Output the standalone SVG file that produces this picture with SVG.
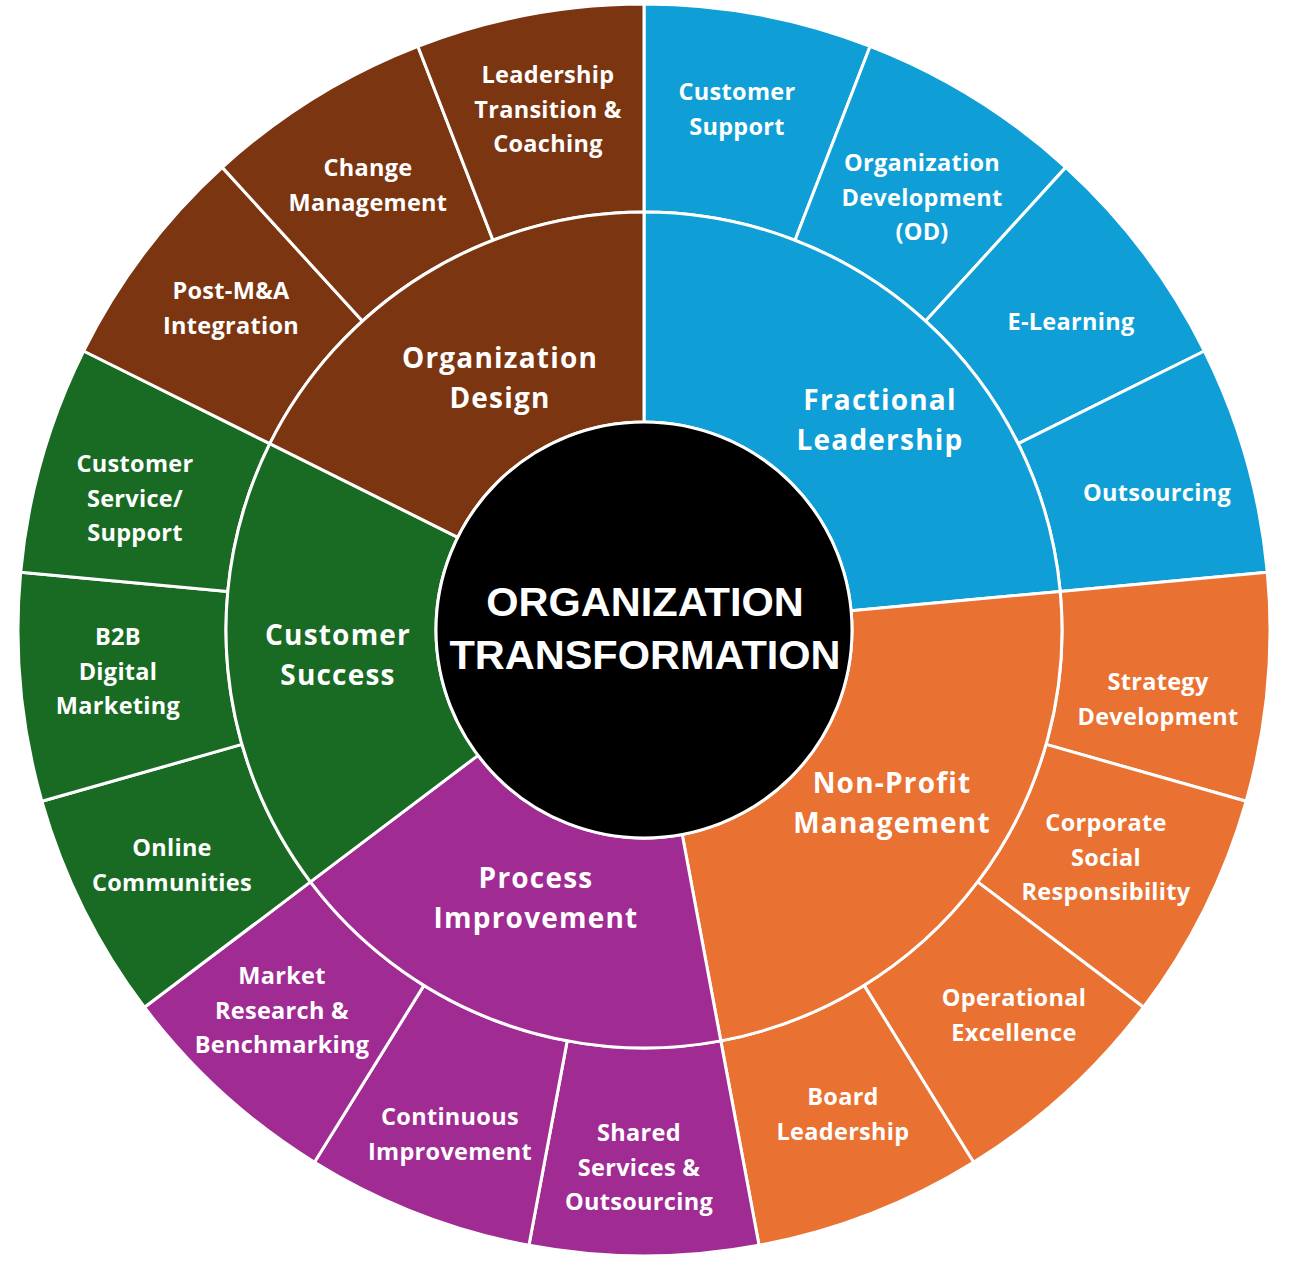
<svg xmlns="http://www.w3.org/2000/svg" width="1291" height="1264" viewBox="0 0 1291 1264">
<style>
.seg{stroke:#ffffff;stroke-width:3;stroke-linejoin:round}
.blue{fill:#0F9ED5}.orange{fill:#E97132}.purple{fill:#A02B93}.green{fill:#196B24}.brown{fill:#7C3511}
.lbl{font-family:"Open Sans","Noto Sans",sans-serif;font-weight:700;fill:#ffffff;text-anchor:middle;font-size:23.5px;letter-spacing:0.3px}
.mid{font-size:28px;letter-spacing:1.2px}
.ctr{font-family:"Liberation Sans",Arial,sans-serif;font-weight:700;fill:#ffffff;text-anchor:middle;font-size:41.5px}
</style>
<rect width="1291" height="1264" fill="#ffffff"/>

<!-- outer ring: Fractional Leadership children -->
<g id="customer-support"><path class="seg blue" d="M644,4 A626,626 0 0 1 870.14,46.27 L795.00,240.23 A418,418 0 0 0 644,212 Z"/>
<text class="lbl" x="737" y="100">Customer</text><text class="lbl" x="737" y="135">Support</text></g>
<g id="organization-development"><path class="seg blue" d="M870.14,46.27 A626,626 0 0 1 1065.74,167.37 L925.61,321.09 A418,418 0 0 0 795.00,240.23 Z"/>
<text class="lbl" x="922" y="171">Organization</text><text class="lbl" x="922" y="206">Development</text><text class="lbl" x="922" y="240">(OD)</text></g>
<g id="e-learning"><path class="seg blue" d="M1065.74,167.37 A626,626 0 0 1 1204.37,350.97 L1018.18,443.68 A418,418 0 0 0 925.61,321.09 Z"/>
<text class="lbl" x="1071" y="330">E-Learning</text></g>
<g id="outsourcing"><path class="seg blue" d="M1204.37,350.97 A626,626 0 0 1 1267.33,572.24 L1060.22,591.43 A418,418 0 0 0 1018.18,443.68 Z"/>
<text class="lbl" x="1157" y="501">Outsourcing</text></g>

<!-- Non-Profit children -->
<g id="strategy-development"><path class="seg orange" d="M1267.33,572.24 A626,626 0 0 1 1246.11,801.31 L1046.04,744.39 A418,418 0 0 0 1060.22,591.43 Z"/>
<text class="lbl" x="1158" y="690">Strategy</text><text class="lbl" x="1158" y="725">Development</text></g>
<g id="csr"><path class="seg orange" d="M1246.11,801.31 A626,626 0 0 1 1143.56,1007.25 L977.57,881.90 A418,418 0 0 0 1046.04,744.39 Z"/>
<text class="lbl" x="1106" y="831">Corporate</text><text class="lbl" x="1106" y="866">Social</text><text class="lbl" x="1106" y="900">Responsibility</text></g>
<g id="operational-excellence"><path class="seg orange" d="M1143.56,1007.25 A626,626 0 0 1 973.55,1162.24 L864.05,985.39 A418,418 0 0 0 977.57,881.90 Z"/>
<text class="lbl" x="1014" y="1006">Operational</text><text class="lbl" x="1014" y="1041">Excellence</text></g>
<g id="board-leadership"><path class="seg orange" d="M973.55,1162.24 A626,626 0 0 1 759.03,1245.34 L720.81,1040.88 A418,418 0 0 0 864.05,985.39 Z"/>
<text class="lbl" x="843" y="1105">Board</text><text class="lbl" x="843" y="1140">Leadership</text></g>

<!-- Process Improvement children -->
<g id="shared-services"><path class="seg purple" d="M759.03,1245.34 A626,626 0 0 1 528.97,1245.34 L567.19,1040.88 A418,418 0 0 0 720.81,1040.88 Z"/>
<text class="lbl" x="639" y="1141">Shared</text><text class="lbl" x="639" y="1176">Services &amp;</text><text class="lbl" x="639" y="1210">Outsourcing</text></g>
<g id="continuous-improvement"><path class="seg purple" d="M528.97,1245.34 A626,626 0 0 1 314.45,1162.24 L423.95,985.39 A418,418 0 0 0 567.19,1040.88 Z"/>
<text class="lbl" x="450" y="1125">Continuous</text><text class="lbl" x="450" y="1160">Improvement</text></g>
<g id="market-research"><path class="seg purple" d="M314.45,1162.24 A626,626 0 0 1 144.44,1007.25 L310.43,881.90 A418,418 0 0 0 423.95,985.39 Z"/>
<text class="lbl" x="282" y="984">Market</text><text class="lbl" x="282" y="1019">Research &amp;</text><text class="lbl" x="282" y="1053">Benchmarking</text></g>

<!-- Customer Success children -->
<g id="online-communities"><path class="seg green" d="M144.44,1007.25 A626,626 0 0 1 41.89,801.31 L241.96,744.39 A418,418 0 0 0 310.43,881.90 Z"/>
<text class="lbl" x="172" y="856">Online</text><text class="lbl" x="172" y="891">Communities</text></g>
<g id="b2b-digital-marketing"><path class="seg green" d="M41.89,801.31 A626,626 0 0 1 20.67,572.24 L227.78,591.43 A418,418 0 0 0 241.96,744.39 Z"/>
<text class="lbl" x="118" y="645">B2B</text><text class="lbl" x="118" y="680">Digital</text><text class="lbl" x="118" y="714">Marketing</text></g>
<g id="customer-service-support"><path class="seg green" d="M20.67,572.24 A626,626 0 0 1 83.63,350.97 L269.82,443.68 A418,418 0 0 0 227.78,591.43 Z"/>
<text class="lbl" x="135" y="472">Customer</text><text class="lbl" x="135" y="507">Service/</text><text class="lbl" x="135" y="541">Support</text></g>

<!-- Organization Design children -->
<g id="post-ma-integration"><path class="seg brown" d="M83.63,350.97 A626,626 0 0 1 222.26,167.37 L362.39,321.09 A418,418 0 0 0 269.82,443.68 Z"/>
<text class="lbl" x="231" y="299">Post-M&amp;A</text><text class="lbl" x="231" y="334">Integration</text></g>
<g id="change-management"><path class="seg brown" d="M222.26,167.37 A626,626 0 0 1 417.86,46.27 L493.00,240.23 A418,418 0 0 0 362.39,321.09 Z"/>
<text class="lbl" x="368" y="176">Change</text><text class="lbl" x="368" y="211">Management</text></g>
<g id="leadership-transition"><path class="seg brown" d="M417.86,46.27 A626,626 0 0 1 644,4 L644,212 A418,418 0 0 0 493.00,240.23 Z"/>
<text class="lbl" x="548" y="83">Leadership</text><text class="lbl" x="548" y="118">Transition &amp;</text><text class="lbl" x="548" y="152">Coaching</text></g>

<!-- middle ring -->
<g id="fractional-leadership"><path class="seg blue" d="M644,212 A418,418 0 0 1 1060.22,591.43 L851.11,610.81 A208,208 0 0 0 644,422 Z"/>
<text class="lbl mid" x="880" y="410">Fractional</text><text class="lbl mid" x="880" y="450">Leadership</text></g>
<g id="non-profit-management"><path class="seg orange" d="M1060.22,591.43 A418,418 0 0 1 720.81,1040.88 L682.22,834.46 A208,208 0 0 0 851.11,610.81 Z"/>
<text class="lbl mid" x="892" y="793">Non-Profit</text><text class="lbl mid" x="892" y="833">Management</text></g>
<g id="process-improvement"><path class="seg purple" d="M720.81,1040.88 A418,418 0 0 1 310.43,881.90 L478.01,755.35 A208,208 0 0 0 682.22,834.46 Z"/>
<text class="lbl mid" x="536" y="888">Process</text><text class="lbl mid" x="536" y="928">Improvement</text></g>
<g id="customer-success"><path class="seg green" d="M310.43,881.90 A418,418 0 0 1 269.82,443.68 L457.81,537.29 A208,208 0 0 0 478.01,755.35 Z"/>
<text class="lbl mid" x="338" y="645">Customer</text><text class="lbl mid" x="338" y="685">Success</text></g>
<g id="organization-design"><path class="seg brown" d="M269.82,443.68 A418,418 0 0 1 644,212 L644,422 A208,208 0 0 0 457.81,537.29 Z"/>
<text class="lbl mid" x="500" y="368">Organization</text><text class="lbl mid" x="500" y="408">Design</text></g>

<!-- center -->
<g id="organization-transformation"><circle cx="644" cy="630" r="208" fill="#000000" stroke="#ffffff" stroke-width="3"/>
<text class="ctr" x="645" y="616">ORGANIZATION</text><text class="ctr" x="645" y="669">TRANSFORMATION</text></g>
<g id="connectors"></g>
</svg>
